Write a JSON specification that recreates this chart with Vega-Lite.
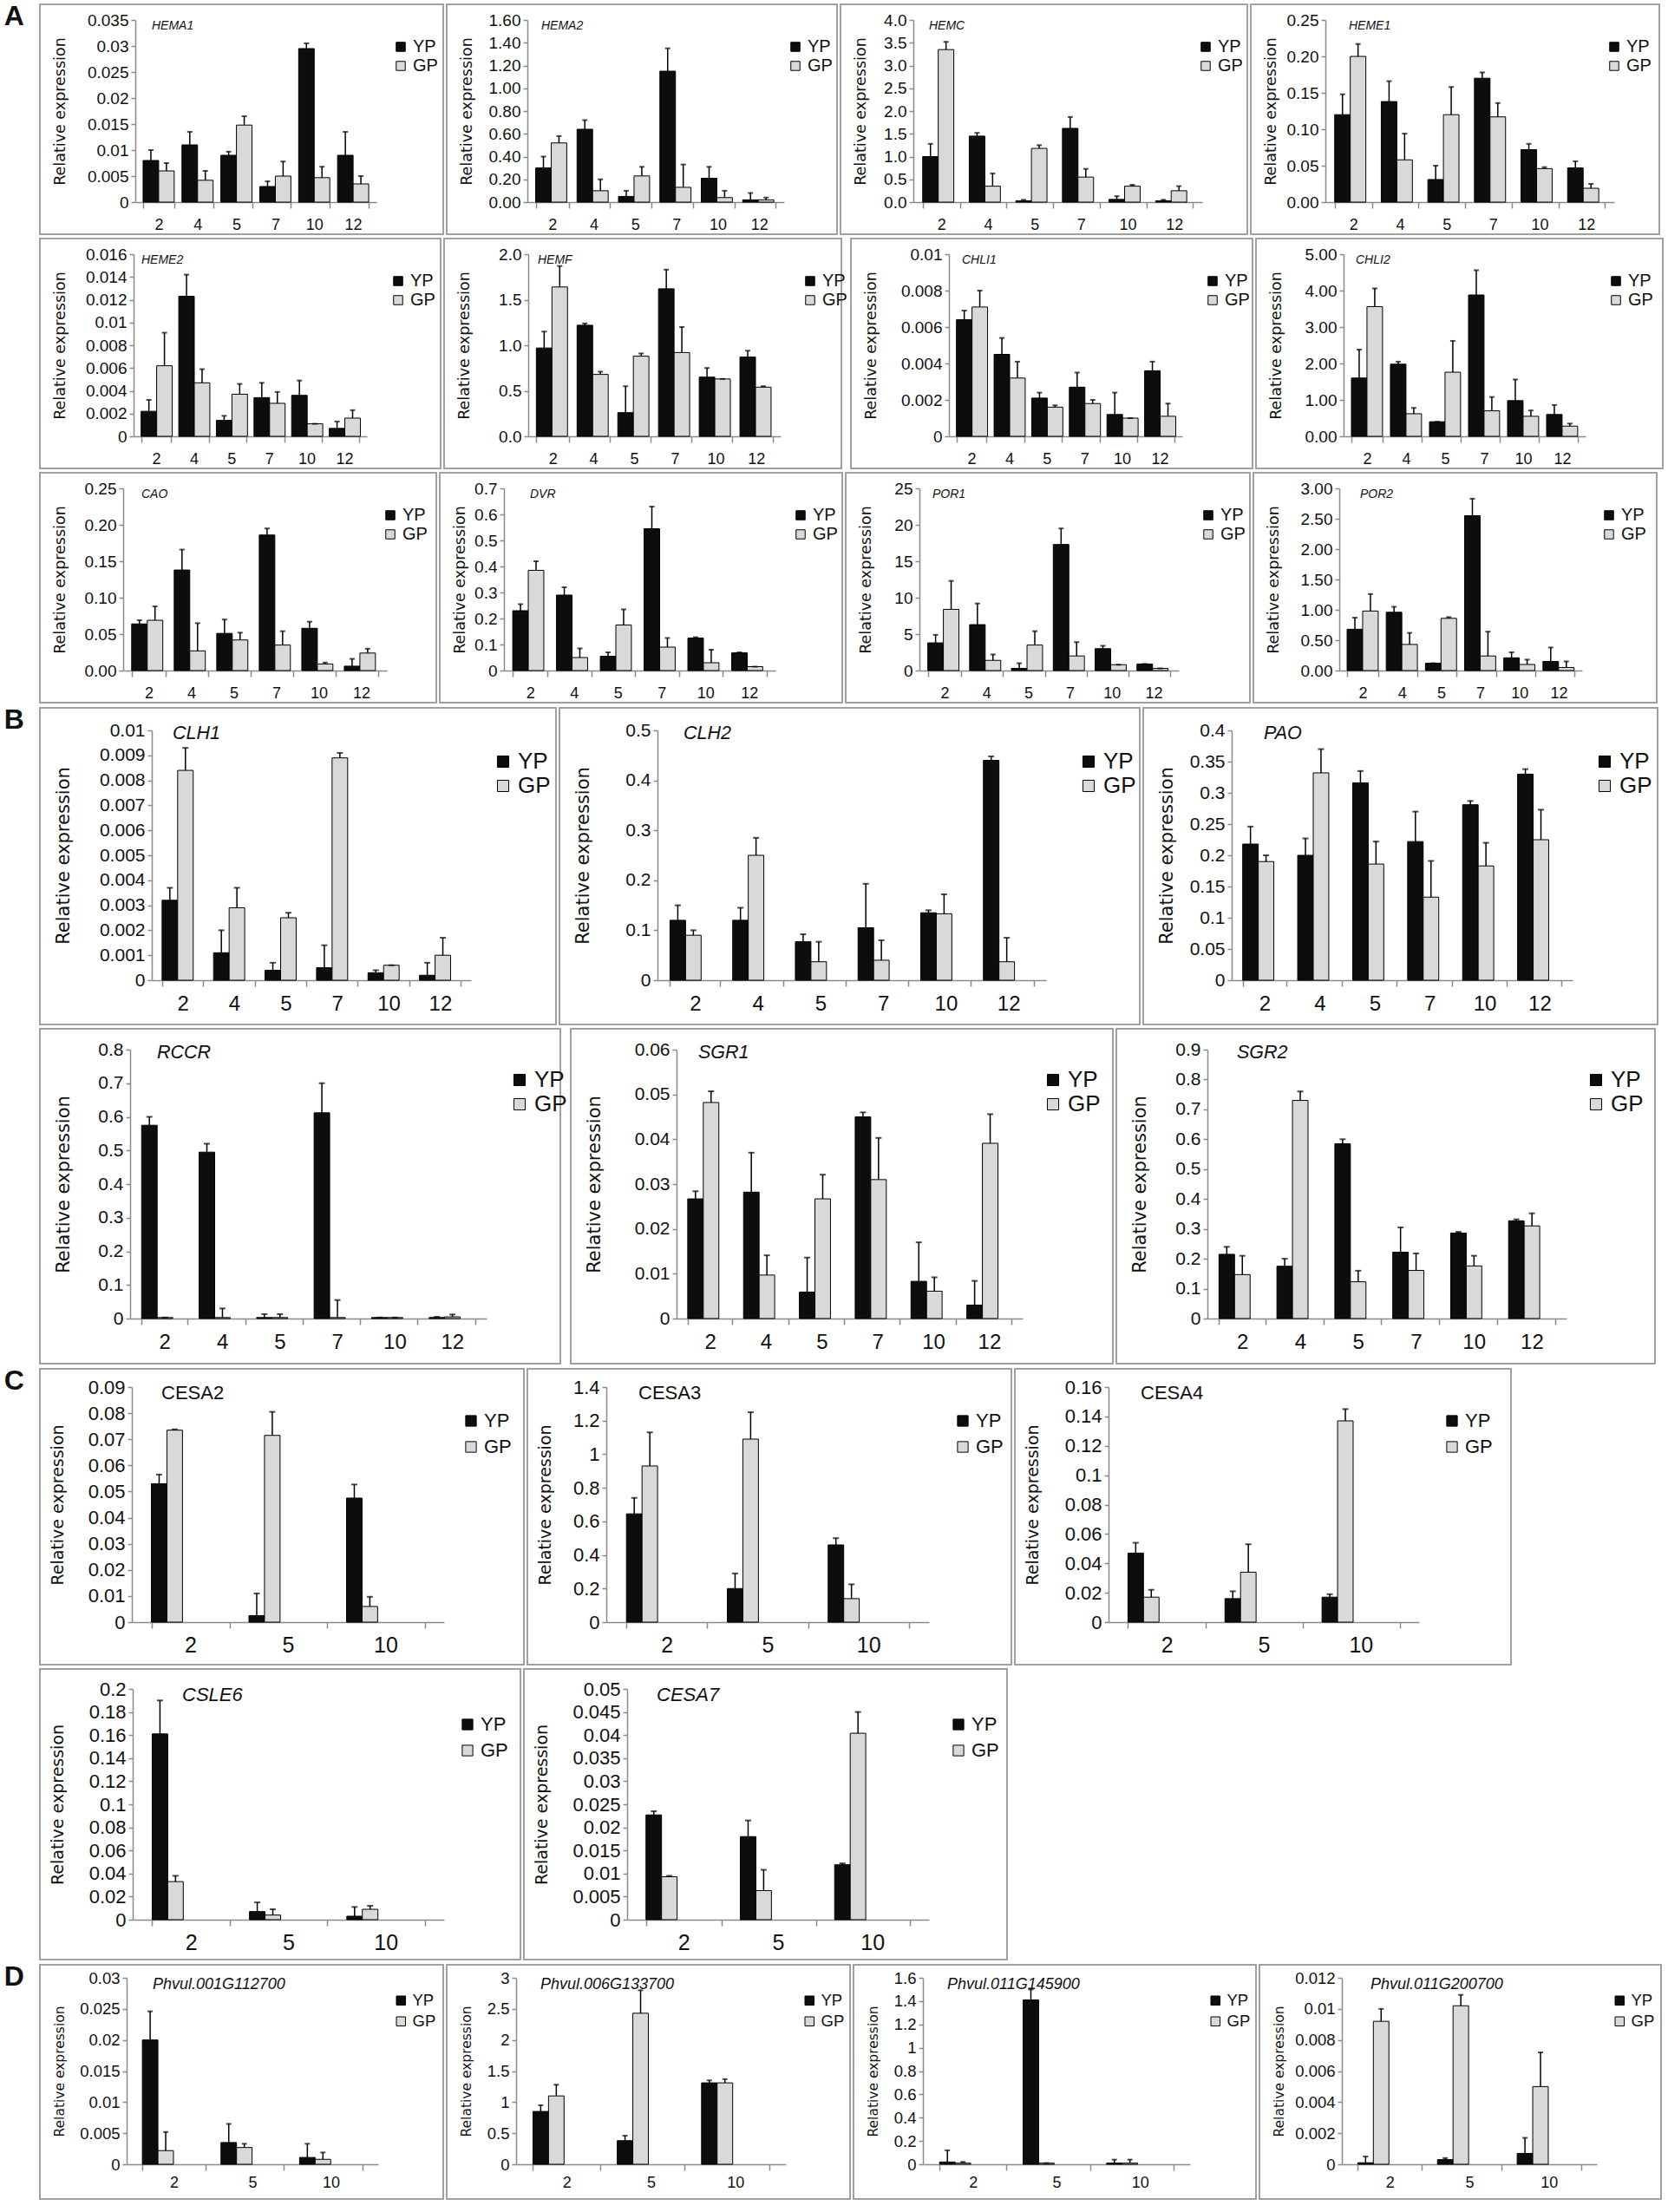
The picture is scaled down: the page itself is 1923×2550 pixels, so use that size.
{
"$schema":"https://vega.github.io/schema/vega-lite/v6.json",
"padding":{"left":4,"top":3,"right":0,"bottom":0},
"background":"white",
"spacing":3,
"resolve":{"scale":{"color":"independent"},"legend":{"color":"independent"}},
"config":{
"font":"Liberation Sans",
"view":{"stroke":"#a0a0a0","strokeWidth":2},
"axis":{"grid":false,"domainColor":"#8a8a8a","domainWidth":1.5,"tickColor":"#8a8a8a","tickWidth":1.5,"labelColor":"#111","titleColor":"#111","titleFontWeight":"normal","labelFont":"Liberation Sans","titleFont":"DejaVu Sans"},
"axisX":{"labelAngle":0,"tickBand":"extent","tickSize":7,"labelPadding":3},
"axisY":{"tickSize":5,"labelPadding":3},
"legend":{"orient":"none","symbolType":"square","symbolStrokeColor":"#000","symbolStrokeWidth":1,"labelFont":"Liberation Sans","labelColor":"#111"},
"scale":{"bandPaddingInner":0.4,"bandPaddingOuter":0.25,"offsetBandPaddingInner":0,"offsetBandPaddingOuter":0},
"bar":{"stroke":"#000","strokeWidth":1},
"rule":{"color":"#000","strokeWidth":1.5},
"tick":{"color":"#000","thickness":2},
"title":{"color":"#111"}
},
"datasets":{"t":[
{"g":"HEMA1","s":"YP","d":2,"v":0.008,"e":0.01},{"g":"HEMA1","s":"YP","d":4,"v":0.011,"e":0.0135},{"g":"HEMA1","s":"YP","d":5,"v":0.009,"e":0.0097},{"g":"HEMA1","s":"YP","d":7,"v":0.003,"e":0.004},{"g":"HEMA1","s":"YP","d":10,"v":0.0295,"e":0.0305},{"g":"HEMA1","s":"YP","d":12,"v":0.009,"e":0.0135},
{"g":"HEMA1","s":"GP","d":2,"v":0.006,"e":0.0075},{"g":"HEMA1","s":"GP","d":4,"v":0.0042,"e":0.006},{"g":"HEMA1","s":"GP","d":5,"v":0.0148,"e":0.0165},{"g":"HEMA1","s":"GP","d":7,"v":0.005,"e":0.0078},{"g":"HEMA1","s":"GP","d":10,"v":0.0047,"e":0.0068},{"g":"HEMA1","s":"GP","d":12,"v":0.0035,"e":0.005},
{"g":"HEMA2","s":"YP","d":2,"v":0.30,"e":0.40},{"g":"HEMA2","s":"YP","d":4,"v":0.64,"e":0.72},{"g":"HEMA2","s":"YP","d":5,"v":0.05,"e":0.10},{"g":"HEMA2","s":"YP","d":7,"v":1.15,"e":1.35},{"g":"HEMA2","s":"YP","d":10,"v":0.21,"e":0.31},{"g":"HEMA2","s":"YP","d":12,"v":0.02,"e":0.08},
{"g":"HEMA2","s":"GP","d":2,"v":0.52,"e":0.58},{"g":"HEMA2","s":"GP","d":4,"v":0.10,"e":0.20},{"g":"HEMA2","s":"GP","d":5,"v":0.23,"e":0.31},{"g":"HEMA2","s":"GP","d":7,"v":0.13,"e":0.33},{"g":"HEMA2","s":"GP","d":10,"v":0.04,"e":0.10},{"g":"HEMA2","s":"GP","d":12,"v":0.02,"e":0.04},
{"g":"HEMC","s":"YP","d":2,"v":1.0,"e":1.28},{"g":"HEMC","s":"YP","d":4,"v":1.45,"e":1.52},{"g":"HEMC","s":"YP","d":5,"v":0.03,"e":0.05},{"g":"HEMC","s":"YP","d":7,"v":1.62,"e":1.87},{"g":"HEMC","s":"YP","d":10,"v":0.06,"e":0.13},{"g":"HEMC","s":"YP","d":12,"v":0.03,"e":0.05},
{"g":"HEMC","s":"GP","d":2,"v":3.35,"e":3.52},{"g":"HEMC","s":"GP","d":4,"v":0.35,"e":0.63},{"g":"HEMC","s":"GP","d":5,"v":1.18,"e":1.25},{"g":"HEMC","s":"GP","d":7,"v":0.55,"e":0.73},{"g":"HEMC","s":"GP","d":10,"v":0.35,"e":0.38},{"g":"HEMC","s":"GP","d":12,"v":0.25,"e":0.35},
{"g":"HEME1","s":"YP","d":2,"v":0.12,"e":0.148},{"g":"HEME1","s":"YP","d":4,"v":0.138,"e":0.166},{"g":"HEME1","s":"YP","d":5,"v":0.031,"e":0.05},{"g":"HEME1","s":"YP","d":7,"v":0.17,"e":0.178},{"g":"HEME1","s":"YP","d":10,"v":0.072,"e":0.08},{"g":"HEME1","s":"YP","d":12,"v":0.047,"e":0.056},
{"g":"HEME1","s":"GP","d":2,"v":0.20,"e":0.217},{"g":"HEME1","s":"GP","d":4,"v":0.058,"e":0.094},{"g":"HEME1","s":"GP","d":5,"v":0.12,"e":0.158},{"g":"HEME1","s":"GP","d":7,"v":0.117,"e":0.136},{"g":"HEME1","s":"GP","d":10,"v":0.046,"e":0.048},{"g":"HEME1","s":"GP","d":12,"v":0.019,"e":0.025},
{"g":"HEME2","s":"YP","d":2,"v":0.0022,"e":0.0032},{"g":"HEME2","s":"YP","d":4,"v":0.0123,"e":0.0142},{"g":"HEME2","s":"YP","d":5,"v":0.0014,"e":0.0018},{"g":"HEME2","s":"YP","d":7,"v":0.0034,"e":0.0047},{"g":"HEME2","s":"YP","d":10,"v":0.0036,"e":0.0049},{"g":"HEME2","s":"YP","d":12,"v":0.0007,"e":0.0013},
{"g":"HEME2","s":"GP","d":2,"v":0.0062,"e":0.0091},{"g":"HEME2","s":"GP","d":4,"v":0.0047,"e":0.0059},{"g":"HEME2","s":"GP","d":5,"v":0.0037,"e":0.0046},{"g":"HEME2","s":"GP","d":7,"v":0.0029,"e":0.0039},{"g":"HEME2","s":"GP","d":10,"v":0.0011,"e":0.0011},{"g":"HEME2","s":"GP","d":12,"v":0.0016,"e":0.0023},
{"g":"HEMF","s":"YP","d":2,"v":0.97,"e":1.15},{"g":"HEMF","s":"YP","d":4,"v":1.22,"e":1.24},{"g":"HEMF","s":"YP","d":5,"v":0.26,"e":0.55},{"g":"HEMF","s":"YP","d":7,"v":1.62,"e":1.83},{"g":"HEMF","s":"YP","d":10,"v":0.65,"e":0.75},{"g":"HEMF","s":"YP","d":12,"v":0.87,"e":0.94},
{"g":"HEMF","s":"GP","d":2,"v":1.64,"e":1.87},{"g":"HEMF","s":"GP","d":4,"v":0.68,"e":0.71},{"g":"HEMF","s":"GP","d":5,"v":0.88,"e":0.91},{"g":"HEMF","s":"GP","d":7,"v":0.92,"e":1.2},{"g":"HEMF","s":"GP","d":10,"v":0.63,"e":0.63},{"g":"HEMF","s":"GP","d":12,"v":0.54,"e":0.55},
{"g":"CHLI1","s":"YP","d":2,"v":0.0064,"e":0.0069},{"g":"CHLI1","s":"YP","d":4,"v":0.0045,"e":0.0054},{"g":"CHLI1","s":"YP","d":5,"v":0.0021,"e":0.0024},{"g":"CHLI1","s":"YP","d":7,"v":0.0027,"e":0.0035},{"g":"CHLI1","s":"YP","d":10,"v":0.0012,"e":0.0024},{"g":"CHLI1","s":"YP","d":12,"v":0.0036,"e":0.0041},
{"g":"CHLI1","s":"GP","d":2,"v":0.0071,"e":0.008},{"g":"CHLI1","s":"GP","d":4,"v":0.0032,"e":0.0041},{"g":"CHLI1","s":"GP","d":5,"v":0.0016,"e":0.0017},{"g":"CHLI1","s":"GP","d":7,"v":0.0018,"e":0.002},{"g":"CHLI1","s":"GP","d":10,"v":0.001,"e":0.001},{"g":"CHLI1","s":"GP","d":12,"v":0.0011,"e":0.0018},
{"g":"CHLI2","s":"YP","d":2,"v":1.6,"e":2.38},{"g":"CHLI2","s":"YP","d":4,"v":1.98,"e":2.05},{"g":"CHLI2","s":"YP","d":5,"v":0.4,"e":0.4},{"g":"CHLI2","s":"YP","d":7,"v":3.88,"e":4.56},{"g":"CHLI2","s":"YP","d":10,"v":0.98,"e":1.56},{"g":"CHLI2","s":"YP","d":12,"v":0.6,"e":0.86},
{"g":"CHLI2","s":"GP","d":2,"v":3.56,"e":4.06},{"g":"CHLI2","s":"GP","d":4,"v":0.62,"e":0.78},{"g":"CHLI2","s":"GP","d":5,"v":1.76,"e":2.62},{"g":"CHLI2","s":"GP","d":7,"v":0.7,"e":1.08},{"g":"CHLI2","s":"GP","d":10,"v":0.55,"e":0.71},{"g":"CHLI2","s":"GP","d":12,"v":0.28,"e":0.35},
{"g":"CAO","s":"YP","d":2,"v":0.064,"e":0.069},{"g":"CAO","s":"YP","d":4,"v":0.138,"e":0.166},{"g":"CAO","s":"YP","d":5,"v":0.051,"e":0.07},{"g":"CAO","s":"YP","d":7,"v":0.186,"e":0.195},{"g":"CAO","s":"YP","d":10,"v":0.058,"e":0.067},{"g":"CAO","s":"YP","d":12,"v":0.006,"e":0.016},
{"g":"CAO","s":"GP","d":2,"v":0.069,"e":0.088},{"g":"CAO","s":"GP","d":4,"v":0.027,"e":0.065},{"g":"CAO","s":"GP","d":5,"v":0.042,"e":0.052},{"g":"CAO","s":"GP","d":7,"v":0.035,"e":0.054},{"g":"CAO","s":"GP","d":10,"v":0.009,"e":0.011},{"g":"CAO","s":"GP","d":12,"v":0.024,"e":0.03},
{"g":"DVR","s":"YP","d":2,"v":0.23,"e":0.255},{"g":"DVR","s":"YP","d":4,"v":0.29,"e":0.32},{"g":"DVR","s":"YP","d":5,"v":0.055,"e":0.07},{"g":"DVR","s":"YP","d":7,"v":0.545,"e":0.63},{"g":"DVR","s":"YP","d":10,"v":0.125,"e":0.128},{"g":"DVR","s":"YP","d":12,"v":0.068,"e":0.07},
{"g":"DVR","s":"GP","d":2,"v":0.385,"e":0.42},{"g":"DVR","s":"GP","d":4,"v":0.05,"e":0.085},{"g":"DVR","s":"GP","d":5,"v":0.175,"e":0.235},{"g":"DVR","s":"GP","d":7,"v":0.09,"e":0.125},{"g":"DVR","s":"GP","d":10,"v":0.03,"e":0.08},{"g":"DVR","s":"GP","d":12,"v":0.015,"e":0.015},
{"g":"POR1","s":"YP","d":2,"v":3.8,"e":4.9},{"g":"POR1","s":"YP","d":4,"v":6.3,"e":9.2},{"g":"POR1","s":"YP","d":5,"v":0.3,"e":1.0},{"g":"POR1","s":"YP","d":7,"v":17.3,"e":19.5},{"g":"POR1","s":"YP","d":10,"v":3.0,"e":3.4},{"g":"POR1","s":"YP","d":12,"v":0.9,"e":0.9},
{"g":"POR1","s":"GP","d":2,"v":8.4,"e":12.3},{"g":"POR1","s":"GP","d":4,"v":1.4,"e":2.2},{"g":"POR1","s":"GP","d":5,"v":3.5,"e":5.4},{"g":"POR1","s":"GP","d":7,"v":2.0,"e":3.9},{"g":"POR1","s":"GP","d":10,"v":0.8,"e":0.8},{"g":"POR1","s":"GP","d":12,"v":0.3,"e":0.3},
{"g":"POR2","s":"YP","d":2,"v":0.68,"e":0.87},{"g":"POR2","s":"YP","d":4,"v":0.96,"e":1.05},{"g":"POR2","s":"YP","d":5,"v":0.12,"e":0.12},{"g":"POR2","s":"YP","d":7,"v":2.55,"e":2.83},{"g":"POR2","s":"YP","d":10,"v":0.21,"e":0.3},{"g":"POR2","s":"YP","d":12,"v":0.15,"e":0.38},
{"g":"POR2","s":"GP","d":2,"v":0.98,"e":1.26},{"g":"POR2","s":"GP","d":4,"v":0.43,"e":0.62},{"g":"POR2","s":"GP","d":5,"v":0.86,"e":0.88},{"g":"POR2","s":"GP","d":7,"v":0.24,"e":0.64},{"g":"POR2","s":"GP","d":10,"v":0.1,"e":0.18},{"g":"POR2","s":"GP","d":12,"v":0.05,"e":0.15},
{"g":"CLH1","s":"YP","d":2,"v":0.0032,"e":0.0037},{"g":"CLH1","s":"YP","d":4,"v":0.0011,"e":0.002},{"g":"CLH1","s":"YP","d":5,"v":0.0004,"e":0.0007},{"g":"CLH1","s":"YP","d":7,"v":0.0005,"e":0.0014},{"g":"CLH1","s":"YP","d":10,"v":0.0003,"e":0.0004},{"g":"CLH1","s":"YP","d":12,"v":0.0002,"e":0.0007},
{"g":"CLH1","s":"GP","d":2,"v":0.0084,"e":0.0093},{"g":"CLH1","s":"GP","d":4,"v":0.0029,"e":0.0037},{"g":"CLH1","s":"GP","d":5,"v":0.0025,"e":0.0027},{"g":"CLH1","s":"GP","d":7,"v":0.0089,"e":0.0091},{"g":"CLH1","s":"GP","d":10,"v":0.0006,"e":0.0006},{"g":"CLH1","s":"GP","d":12,"v":0.001,"e":0.0017},
{"g":"CLH2","s":"YP","d":2,"v":0.12,"e":0.15},{"g":"CLH2","s":"YP","d":4,"v":0.12,"e":0.145},{"g":"CLH2","s":"YP","d":5,"v":0.077,"e":0.092},{"g":"CLH2","s":"YP","d":7,"v":0.105,"e":0.193},{"g":"CLH2","s":"YP","d":10,"v":0.135,"e":0.14},{"g":"CLH2","s":"YP","d":12,"v":0.44,"e":0.448},
{"g":"CLH2","s":"GP","d":2,"v":0.09,"e":0.10},{"g":"CLH2","s":"GP","d":4,"v":0.25,"e":0.285},{"g":"CLH2","s":"GP","d":5,"v":0.037,"e":0.077},{"g":"CLH2","s":"GP","d":7,"v":0.04,"e":0.08},{"g":"CLH2","s":"GP","d":10,"v":0.133,"e":0.172},{"g":"CLH2","s":"GP","d":12,"v":0.037,"e":0.085},
{"g":"PAO","s":"YP","d":2,"v":0.218,"e":0.246},{"g":"PAO","s":"YP","d":4,"v":0.2,"e":0.227},{"g":"PAO","s":"YP","d":5,"v":0.316,"e":0.335},{"g":"PAO","s":"YP","d":7,"v":0.222,"e":0.27},{"g":"PAO","s":"YP","d":10,"v":0.281,"e":0.287},{"g":"PAO","s":"YP","d":12,"v":0.33,"e":0.338},
{"g":"PAO","s":"GP","d":2,"v":0.19,"e":0.2},{"g":"PAO","s":"GP","d":4,"v":0.332,"e":0.37},{"g":"PAO","s":"GP","d":5,"v":0.186,"e":0.222},{"g":"PAO","s":"GP","d":7,"v":0.133,"e":0.191},{"g":"PAO","s":"GP","d":10,"v":0.183,"e":0.22},{"g":"PAO","s":"GP","d":12,"v":0.225,"e":0.273},
{"g":"RCCR","s":"YP","d":2,"v":0.575,"e":0.6},{"g":"RCCR","s":"YP","d":4,"v":0.495,"e":0.52},{"g":"RCCR","s":"YP","d":5,"v":0.003,"e":0.013},{"g":"RCCR","s":"YP","d":7,"v":0.612,"e":0.7},{"g":"RCCR","s":"YP","d":10,"v":0.003,"e":0.003},{"g":"RCCR","s":"YP","d":12,"v":0.003,"e":0.005},
{"g":"RCCR","s":"GP","d":2,"v":0.003,"e":0.003},{"g":"RCCR","s":"GP","d":4,"v":0.003,"e":0.03},{"g":"RCCR","s":"GP","d":5,"v":0.003,"e":0.013},{"g":"RCCR","s":"GP","d":7,"v":0.003,"e":0.055},{"g":"RCCR","s":"GP","d":10,"v":0.003,"e":0.003},{"g":"RCCR","s":"GP","d":12,"v":0.005,"e":0.012},
{"g":"SGR1","s":"YP","d":2,"v":0.0267,"e":0.0284},{"g":"SGR1","s":"YP","d":4,"v":0.0282,"e":0.037},{"g":"SGR1","s":"YP","d":5,"v":0.0059,"e":0.0136},{"g":"SGR1","s":"YP","d":7,"v":0.045,"e":0.046},{"g":"SGR1","s":"YP","d":10,"v":0.0083,"e":0.017},{"g":"SGR1","s":"YP","d":12,"v":0.003,"e":0.0084},
{"g":"SGR1","s":"GP","d":2,"v":0.0482,"e":0.0507},{"g":"SGR1","s":"GP","d":4,"v":0.0097,"e":0.0141},{"g":"SGR1","s":"GP","d":5,"v":0.0267,"e":0.0321},{"g":"SGR1","s":"GP","d":7,"v":0.031,"e":0.0403},{"g":"SGR1","s":"GP","d":10,"v":0.0061,"e":0.0092},{"g":"SGR1","s":"GP","d":12,"v":0.0391,"e":0.0456},
{"g":"SGR2","s":"YP","d":2,"v":0.215,"e":0.24},{"g":"SGR2","s":"YP","d":4,"v":0.175,"e":0.2},{"g":"SGR2","s":"YP","d":5,"v":0.585,"e":0.6},{"g":"SGR2","s":"YP","d":7,"v":0.222,"e":0.305},{"g":"SGR2","s":"YP","d":10,"v":0.286,"e":0.29},{"g":"SGR2","s":"YP","d":12,"v":0.327,"e":0.332},
{"g":"SGR2","s":"GP","d":2,"v":0.147,"e":0.21},{"g":"SGR2","s":"GP","d":4,"v":0.73,"e":0.76},{"g":"SGR2","s":"GP","d":5,"v":0.123,"e":0.16},{"g":"SGR2","s":"GP","d":7,"v":0.161,"e":0.218},{"g":"SGR2","s":"GP","d":10,"v":0.176,"e":0.21},{"g":"SGR2","s":"GP","d":12,"v":0.31,"e":0.352},
{"g":"CESA2","s":"YP","d":2,"v":0.053,"e":0.0565},{"g":"CESA2","s":"YP","d":5,"v":0.0025,"e":0.011},{"g":"CESA2","s":"YP","d":10,"v":0.0475,"e":0.0527},
{"g":"CESA2","s":"GP","d":2,"v":0.0735,"e":0.0738},{"g":"CESA2","s":"GP","d":5,"v":0.0715,"e":0.0805},{"g":"CESA2","s":"GP","d":10,"v":0.006,"e":0.0097},
{"g":"CESA3","s":"YP","d":2,"v":0.645,"e":0.74},{"g":"CESA3","s":"YP","d":5,"v":0.2,"e":0.29},{"g":"CESA3","s":"YP","d":10,"v":0.46,"e":0.5},
{"g":"CESA3","s":"GP","d":2,"v":0.93,"e":1.13},{"g":"CESA3","s":"GP","d":5,"v":1.09,"e":1.25},{"g":"CESA3","s":"GP","d":10,"v":0.14,"e":0.225},
{"g":"CESA4","s":"YP","d":2,"v":0.047,"e":0.054},{"g":"CESA4","s":"YP","d":5,"v":0.016,"e":0.021},{"g":"CESA4","s":"YP","d":10,"v":0.017,"e":0.019},
{"g":"CESA4","s":"GP","d":2,"v":0.017,"e":0.022},{"g":"CESA4","s":"GP","d":5,"v":0.034,"e":0.053},{"g":"CESA4","s":"GP","d":10,"v":0.137,"e":0.145},
{"g":"CSLE6","s":"YP","d":2,"v":0.161,"e":0.19},{"g":"CSLE6","s":"YP","d":5,"v":0.007,"e":0.015},{"g":"CSLE6","s":"YP","d":10,"v":0.003,"e":0.011},
{"g":"CSLE6","s":"GP","d":2,"v":0.033,"e":0.038},{"g":"CSLE6","s":"GP","d":5,"v":0.004,"e":0.009},{"g":"CSLE6","s":"GP","d":10,"v":0.009,"e":0.012},
{"g":"CESA7","s":"YP","d":2,"v":0.0227,"e":0.0235},{"g":"CESA7","s":"YP","d":5,"v":0.018,"e":0.0215},{"g":"CESA7","s":"YP","d":10,"v":0.0119,"e":0.0122},
{"g":"CESA7","s":"GP","d":2,"v":0.0093,"e":0.0095},{"g":"CESA7","s":"GP","d":5,"v":0.0063,"e":0.0108},{"g":"CESA7","s":"GP","d":10,"v":0.0404,"e":0.045},
{"g":"Phvul.001G112700","s":"YP","d":2,"v":0.02,"e":0.0246},{"g":"Phvul.001G112700","s":"YP","d":5,"v":0.0035,"e":0.0065},{"g":"Phvul.001G112700","s":"YP","d":10,"v":0.0011,"e":0.0033},
{"g":"Phvul.001G112700","s":"GP","d":2,"v":0.0022,"e":0.0052},{"g":"Phvul.001G112700","s":"GP","d":5,"v":0.0027,"e":0.0033},{"g":"Phvul.001G112700","s":"GP","d":10,"v":0.0008,"e":0.0019},
{"g":"Phvul.006G133700","s":"YP","d":2,"v":0.85,"e":0.95},{"g":"Phvul.006G133700","s":"YP","d":5,"v":0.38,"e":0.46},{"g":"Phvul.006G133700","s":"YP","d":10,"v":1.31,"e":1.35},
{"g":"Phvul.006G133700","s":"GP","d":2,"v":1.1,"e":1.28},{"g":"Phvul.006G133700","s":"GP","d":5,"v":2.43,"e":2.8},{"g":"Phvul.006G133700","s":"GP","d":10,"v":1.31,"e":1.37},
{"g":"Phvul.011G145900","s":"YP","d":2,"v":0.02,"e":0.12},{"g":"Phvul.011G145900","s":"YP","d":5,"v":1.41,"e":1.5},{"g":"Phvul.011G145900","s":"YP","d":10,"v":0.01,"e":0.04},
{"g":"Phvul.011G145900","s":"GP","d":2,"v":0.01,"e":0.02},{"g":"Phvul.011G145900","s":"GP","d":5,"v":0.01,"e":0.01},{"g":"Phvul.011G145900","s":"GP","d":10,"v":0.01,"e":0.04},
{"g":"Phvul.011G200700","s":"YP","d":2,"v":0.0001,"e":0.0005},{"g":"Phvul.011G200700","s":"YP","d":5,"v":0.0003,"e":0.0004},{"g":"Phvul.011G200700","s":"YP","d":10,"v":0.0007,"e":0.0017},
{"g":"Phvul.011G200700","s":"GP","d":2,"v":0.0092,"e":0.01},{"g":"Phvul.011G200700","s":"GP","d":5,"v":0.0102,"e":0.0109},{"g":"Phvul.011G200700","s":"GP","d":10,"v":0.005,"e":0.0072}
]},
"vconcat":[
{"title":{"text":"A","orient":"left","anchor":"end","angle":0,"align":"right","baseline":"top","fontSize":32,"fontWeight":"bold","font":"Liberation Sans","offset":-6},
"spacing":3,"resolve":{"scale":{"color":"independent"},"legend":{"color":"independent"}},
"vconcat":[
{"spacing":2,"resolve":{"scale":{"color":"independent"},"legend":{"color":"independent"}},"hconcat":[
{"width":465,"height":265,"title":{"text":"HEMA1","anchor":"start","frame":"group","dx":129,"offset":-32,"baseline":"top","fontSize":14,"fontStyle":"italic","fontWeight":"normal","font":"Liberation Sans"},
"data":{"name":"t"},"transform":[{"filter":"datum.g==='HEMA1'"}],
"encoding":{"x":{"field":"d","type":"ordinal","title":null,"scale":{"range":[110,388]},"axis":{"offset":-37,"labelFontSize":18,"labelPadding":10}},
"xOffset":{"field":"s","type":"nominal","sort":["YP","GP"]},
"y":{"field":"v","type":"quantitative","title":"Relative expression","scale":{"domain":[0,0.035],"range":[228,18]},"axis":{"offset":-110,"titleX":-78,"values":[0,0.005,0.01,0.015,0.02,0.025,0.03,0.035],"format":"~g","labelFontSize":19,"titleFontSize":17.5}}},
"layer":[{"mark":"bar","encoding":{"color":{"field":"s","type":"nominal","sort":["YP","GP"],"scale":{"domain":["YP","GP"],"range":["#0d0d0d","#d9d9d9"]},"legend":{"title":null,"legendX":406,"legendY":39,"labelFontSize":20,"symbolSize":110,"rowPadding":2}}}},
{"mark":"rule","encoding":{"y2":{"field":"e"}}},
{"mark":"tick","encoding":{"y":{"field":"e","type":"quantitative","title":"Relative expression"},"size":{"value":6}}}]},
{"width":450,"height":265,"title":{"text":"HEMA2","anchor":"start","frame":"group","dx":109,"offset":-32,"baseline":"top","fontSize":14,"fontStyle":"italic","fontWeight":"normal","font":"Liberation Sans"},
"data":{"name":"t"},"transform":[{"filter":"datum.g==='HEMA2'"}],
"encoding":{"x":{"field":"d","type":"ordinal","title":null,"scale":{"range":[93,389]},"axis":{"offset":-37,"labelFontSize":18,"labelPadding":10}},
"xOffset":{"field":"s","type":"nominal","sort":["YP","GP"]},
"y":{"field":"v","type":"quantitative","title":"Relative expression","scale":{"domain":[0,1.6],"range":[228,18]},"axis":{"offset":-93,"titleX":-61,"values":[0,0.2,0.4,0.6,0.8,1,1.2,1.4,1.6],"format":".2f","labelFontSize":19,"titleFontSize":17.5}}},
"layer":[{"mark":"bar","encoding":{"color":{"field":"s","type":"nominal","sort":["YP","GP"],"scale":{"domain":["YP","GP"],"range":["#0d0d0d","#d9d9d9"]},"legend":{"title":null,"legendX":392,"legendY":39,"labelFontSize":20,"symbolSize":110,"rowPadding":2}}}},
{"mark":"rule","encoding":{"y2":{"field":"e"}}},
{"mark":"tick","encoding":{"y":{"field":"e","type":"quantitative","title":"Relative expression"},"size":{"value":6}}}]},
{"width":469,"height":265,"title":{"text":"HEMC","anchor":"start","frame":"group","dx":102,"offset":-32,"baseline":"top","fontSize":14,"fontStyle":"italic","fontWeight":"normal","font":"Liberation Sans"},
"data":{"name":"t"},"transform":[{"filter":"datum.g==='HEMC'"}],
"encoding":{"x":{"field":"d","type":"ordinal","title":null,"scale":{"range":[84,417]},"axis":{"offset":-37,"labelFontSize":18,"labelPadding":10}},
"xOffset":{"field":"s","type":"nominal","sort":["YP","GP"]},
"y":{"field":"v","type":"quantitative","title":"Relative expression","scale":{"domain":[0,4],"range":[228,18]},"axis":{"offset":-84,"titleX":-52,"values":[0,0.5,1,1.5,2,2.5,3,3.5,4],"format":".1f","labelFontSize":19,"titleFontSize":17.5}}},
"layer":[{"mark":"bar","encoding":{"color":{"field":"s","type":"nominal","sort":["YP","GP"],"scale":{"domain":["YP","GP"],"range":["#0d0d0d","#d9d9d9"]},"legend":{"title":null,"legendX":411,"legendY":39,"labelFontSize":20,"symbolSize":110,"rowPadding":2}}}},
{"mark":"rule","encoding":{"y2":{"field":"e"}}},
{"mark":"tick","encoding":{"y":{"field":"e","type":"quantitative","title":"Relative expression"},"size":{"value":6}}}]},
{"width":471,"height":265,"title":{"text":"HEME1","anchor":"start","frame":"group","dx":113,"offset":-32,"baseline":"top","fontSize":14,"fontStyle":"italic","fontWeight":"normal","font":"Liberation Sans"},
"data":{"name":"t"},"transform":[{"filter":"datum.g==='HEME1'"}],
"encoding":{"x":{"field":"d","type":"ordinal","title":null,"scale":{"range":[86,419]},"axis":{"offset":-37,"labelFontSize":18,"labelPadding":10}},
"xOffset":{"field":"s","type":"nominal","sort":["YP","GP"]},
"y":{"field":"v","type":"quantitative","title":"Relative expression","scale":{"domain":[0,0.25],"range":[228,18]},"axis":{"offset":-86,"titleX":-54,"values":[0,0.05,0.1,0.15,0.2,0.25],"format":".2f","labelFontSize":19,"titleFontSize":17.5}}},
"layer":[{"mark":"bar","encoding":{"color":{"field":"s","type":"nominal","sort":["YP","GP"],"scale":{"domain":["YP","GP"],"range":["#0d0d0d","#d9d9d9"]},"legend":{"title":null,"legendX":409,"legendY":39,"labelFontSize":20,"symbolSize":110,"rowPadding":2}}}},
{"mark":"rule","encoding":{"y2":{"field":"e"}}},
{"mark":"tick","encoding":{"y":{"field":"e","type":"quantitative","title":"Relative expression"},"size":{"value":6}}}]}
]},
{"spacing":2,"resolve":{"scale":{"color":"independent"},"legend":{"color":"independent"}},"hconcat":[
{"width":462,"height":265,"title":{"text":"HEME2","anchor":"start","frame":"group","dx":117,"offset":-32,"baseline":"top","fontSize":14,"fontStyle":"italic","fontWeight":"normal","font":"Liberation Sans"},
"data":{"name":"t"},"transform":[{"filter":"datum.g==='HEME2'"}],
"encoding":{"x":{"field":"d","type":"ordinal","title":null,"scale":{"range":[108,377]},"axis":{"offset":-37,"labelFontSize":18,"labelPadding":10}},
"xOffset":{"field":"s","type":"nominal","sort":["YP","GP"]},
"y":{"field":"v","type":"quantitative","title":"Relative expression","scale":{"domain":[0,0.016],"range":[228,18]},"axis":{"offset":-108,"titleX":-76,"values":[0,0.002,0.004,0.006,0.008,0.01,0.012,0.014,0.016],"format":"~g","labelFontSize":19,"titleFontSize":17.5}}},
"layer":[{"mark":"bar","encoding":{"color":{"field":"s","type":"nominal","sort":["YP","GP"],"scale":{"domain":["YP","GP"],"range":["#0d0d0d","#d9d9d9"]},"legend":{"title":null,"legendX":403,"legendY":39,"labelFontSize":20,"symbolSize":110,"rowPadding":2}}}},
{"mark":"rule","encoding":{"y2":{"field":"e"}}},
{"mark":"tick","encoding":{"y":{"field":"e","type":"quantitative","title":"Relative expression"},"size":{"value":6}}}]},
{"width":458,"height":265,"title":{"text":"HEMF","anchor":"start","frame":"group","dx":108,"offset":-32,"baseline":"top","fontSize":14,"fontStyle":"italic","fontWeight":"normal","font":"Liberation Sans"},
"data":{"name":"t"},"transform":[{"filter":"datum.g==='HEMF'"}],
"encoding":{"x":{"field":"d","type":"ordinal","title":null,"scale":{"range":[97,388]},"axis":{"offset":-37,"labelFontSize":18,"labelPadding":10}},
"xOffset":{"field":"s","type":"nominal","sort":["YP","GP"]},
"y":{"field":"v","type":"quantitative","title":"Relative expression","scale":{"domain":[0,2],"range":[228,18]},"axis":{"offset":-97,"titleX":-65,"values":[0,0.5,1,1.5,2],"format":".1f","labelFontSize":19,"titleFontSize":17.5}}},
"layer":[{"mark":"bar","encoding":{"color":{"field":"s","type":"nominal","sort":["YP","GP"],"scale":{"domain":["YP","GP"],"range":["#0d0d0d","#d9d9d9"]},"legend":{"title":null,"legendX":412,"legendY":39,"labelFontSize":20,"symbolSize":110,"rowPadding":2}}}},
{"mark":"rule","encoding":{"y2":{"field":"e"}}},
{"mark":"tick","encoding":{"y":{"field":"e","type":"quantitative","title":"Relative expression"},"size":{"value":6}}}]},
{"width":463,"height":265,"title":{"text":"CHLI1","anchor":"start","frame":"group","dx":128,"offset":-32,"baseline":"top","fontSize":14,"fontStyle":"italic","fontWeight":"normal","font":"Liberation Sans"},
"data":{"name":"t"},"transform":[{"filter":"datum.g==='CHLI1'"}],
"encoding":{"x":{"field":"d","type":"ordinal","title":null,"scale":{"range":[113,382]},"axis":{"offset":-37,"labelFontSize":18,"labelPadding":10}},
"xOffset":{"field":"s","type":"nominal","sort":["YP","GP"]},
"y":{"field":"v","type":"quantitative","title":"Relative expression","scale":{"domain":[0,0.01],"range":[228,18]},"axis":{"offset":-113,"titleX":-81,"values":[0,0.002,0.004,0.006,0.008,0.01],"format":"~g","labelFontSize":19,"titleFontSize":17.5}}},
"layer":[{"mark":"bar","encoding":{"color":{"field":"s","type":"nominal","sort":["YP","GP"],"scale":{"domain":["YP","GP"],"range":["#0d0d0d","#d9d9d9"]},"legend":{"title":null,"legendX":407,"legendY":39,"labelFontSize":20,"symbolSize":110,"rowPadding":2}}}},
{"mark":"rule","encoding":{"y2":{"field":"e"}}},
{"mark":"tick","encoding":{"y":{"field":"e","type":"quantitative","title":"Relative expression"},"size":{"value":6}}}]},
{"width":469,"height":265,"title":{"text":"CHLI2","anchor":"start","frame":"group","dx":115,"offset":-32,"baseline":"top","fontSize":14,"fontStyle":"italic","fontWeight":"normal","font":"Liberation Sans"},
"data":{"name":"t"},"transform":[{"filter":"datum.g==='CHLI2'"}],
"encoding":{"x":{"field":"d","type":"ordinal","title":null,"scale":{"range":[101,380]},"axis":{"offset":-37,"labelFontSize":18,"labelPadding":10}},
"xOffset":{"field":"s","type":"nominal","sort":["YP","GP"]},
"y":{"field":"v","type":"quantitative","title":"Relative expression","scale":{"domain":[0,5],"range":[228,18]},"axis":{"offset":-101,"titleX":-69,"values":[0,1,2,3,4,5],"format":".2f","labelFontSize":19,"titleFontSize":17.5}}},
"layer":[{"mark":"bar","encoding":{"color":{"field":"s","type":"nominal","sort":["YP","GP"],"scale":{"domain":["YP","GP"],"range":["#0d0d0d","#d9d9d9"]},"legend":{"title":null,"legendX":405,"legendY":39,"labelFontSize":20,"symbolSize":110,"rowPadding":2}}}},
{"mark":"rule","encoding":{"y2":{"field":"e"}}},
{"mark":"tick","encoding":{"y":{"field":"e","type":"quantitative","title":"Relative expression"},"size":{"value":6}}}]}
]},
{"spacing":2,"resolve":{"scale":{"color":"independent"},"legend":{"color":"independent"}},"hconcat":[
{"width":457,"height":265,"title":{"text":"CAO","anchor":"start","frame":"group","dx":117,"offset":-32,"baseline":"top","fontSize":14,"fontStyle":"italic","fontWeight":"normal","font":"Liberation Sans"},
"data":{"name":"t"},"transform":[{"filter":"datum.g==='CAO'"}],
"encoding":{"x":{"field":"d","type":"ordinal","title":null,"scale":{"range":[96,400]},"axis":{"offset":-37,"labelFontSize":18,"labelPadding":10}},
"xOffset":{"field":"s","type":"nominal","sort":["YP","GP"]},
"y":{"field":"v","type":"quantitative","title":"Relative expression","scale":{"domain":[0,0.25],"range":[228,18]},"axis":{"offset":-96,"titleX":-64,"values":[0,0.05,0.1,0.15,0.2,0.25],"format":".2f","labelFontSize":19,"titleFontSize":17.5}}},
"layer":[{"mark":"bar","encoding":{"color":{"field":"s","type":"nominal","sort":["YP","GP"],"scale":{"domain":["YP","GP"],"range":["#0d0d0d","#d9d9d9"]},"legend":{"title":null,"legendX":394,"legendY":39,"labelFontSize":20,"symbolSize":110,"rowPadding":2}}}},
{"mark":"rule","encoding":{"y2":{"field":"e"}}},
{"mark":"tick","encoding":{"y":{"field":"e","type":"quantitative","title":"Relative expression"},"size":{"value":6}}}]},
{"width":464,"height":265,"title":{"text":"DVR","anchor":"start","frame":"group","dx":104,"offset":-32,"baseline":"top","fontSize":14,"fontStyle":"italic","fontWeight":"normal","font":"Liberation Sans"},
"data":{"name":"t"},"transform":[{"filter":"datum.g==='DVR'"}],
"encoding":{"x":{"field":"d","type":"ordinal","title":null,"scale":{"range":[74,387]},"axis":{"offset":-37,"labelFontSize":18,"labelPadding":10}},
"xOffset":{"field":"s","type":"nominal","sort":["YP","GP"]},
"y":{"field":"v","type":"quantitative","title":"Relative expression","scale":{"domain":[0,0.7],"range":[228,18]},"axis":{"offset":-74,"titleX":-42,"values":[0,0.1,0.2,0.3,0.4,0.5,0.6,0.7],"format":"~g","labelFontSize":19,"titleFontSize":17.5}}},
"layer":[{"mark":"bar","encoding":{"color":{"field":"s","type":"nominal","sort":["YP","GP"],"scale":{"domain":["YP","GP"],"range":["#0d0d0d","#d9d9d9"]},"legend":{"title":null,"legendX":406,"legendY":39,"labelFontSize":20,"symbolSize":110,"rowPadding":2}}}},
{"mark":"rule","encoding":{"y2":{"field":"e"}}},
{"mark":"tick","encoding":{"y":{"field":"e","type":"quantitative","title":"Relative expression"},"size":{"value":6}}}]},
{"width":466,"height":265,"title":{"text":"POR1","anchor":"start","frame":"group","dx":100,"offset":-32,"baseline":"top","fontSize":14,"fontStyle":"italic","fontWeight":"normal","font":"Liberation Sans"},
"data":{"name":"t"},"transform":[{"filter":"datum.g==='POR1'"}],
"encoding":{"x":{"field":"d","type":"ordinal","title":null,"scale":{"range":[85,384]},"axis":{"offset":-37,"labelFontSize":18,"labelPadding":10}},
"xOffset":{"field":"s","type":"nominal","sort":["YP","GP"]},
"y":{"field":"v","type":"quantitative","title":"Relative expression","scale":{"domain":[0,25],"range":[228,18]},"axis":{"offset":-85,"titleX":-53,"values":[0,5,10,15,20,25],"format":"~g","labelFontSize":19,"titleFontSize":17.5}}},
"layer":[{"mark":"bar","encoding":{"color":{"field":"s","type":"nominal","sort":["YP","GP"],"scale":{"domain":["YP","GP"],"range":["#0d0d0d","#d9d9d9"]},"legend":{"title":null,"legendX":408,"legendY":39,"labelFontSize":20,"symbolSize":110,"rowPadding":2}}}},
{"mark":"rule","encoding":{"y2":{"field":"e"}}},
{"mark":"tick","encoding":{"y":{"field":"e","type":"quantitative","title":"Relative expression"},"size":{"value":6}}}]},
{"width":465,"height":265,"title":{"text":"POR2","anchor":"start","frame":"group","dx":123,"offset":-32,"baseline":"top","fontSize":14,"fontStyle":"italic","fontWeight":"normal","font":"Liberation Sans"},
"data":{"name":"t"},"transform":[{"filter":"datum.g==='POR2'"}],
"encoding":{"x":{"field":"d","type":"ordinal","title":null,"scale":{"range":[99,379]},"axis":{"offset":-37,"labelFontSize":18,"labelPadding":10}},
"xOffset":{"field":"s","type":"nominal","sort":["YP","GP"]},
"y":{"field":"v","type":"quantitative","title":"Relative expression","scale":{"domain":[0,3],"range":[228,18]},"axis":{"offset":-99,"titleX":-67,"values":[0,0.5,1,1.5,2,2.5,3],"format":".2f","labelFontSize":19,"titleFontSize":17.5}}},
"layer":[{"mark":"bar","encoding":{"color":{"field":"s","type":"nominal","sort":["YP","GP"],"scale":{"domain":["YP","GP"],"range":["#0d0d0d","#d9d9d9"]},"legend":{"title":null,"legendX":400,"legendY":39,"labelFontSize":20,"symbolSize":110,"rowPadding":2}}}},
{"mark":"rule","encoding":{"y2":{"field":"e"}}},
{"mark":"tick","encoding":{"y":{"field":"e","type":"quantitative","title":"Relative expression"},"size":{"value":6}}}]}
]}
]},
{"title":{"text":"B","orient":"left","anchor":"end","angle":0,"align":"right","baseline":"top","fontSize":32,"fontWeight":"bold","font":"Liberation Sans","offset":-6},
"spacing":3,"resolve":{"scale":{"color":"independent"},"legend":{"color":"independent"}},
"vconcat":[
{"spacing":2,"resolve":{"scale":{"color":"independent"},"legend":{"color":"independent"}},"hconcat":[
{"width":595,"height":365,"title":{"text":"CLH1","anchor":"start","frame":"group","dx":153,"offset":-40,"baseline":"top","fontSize":21.5,"fontStyle":"italic","fontWeight":"normal","font":"Liberation Sans"},
"data":{"name":"t"},"transform":[{"filter":"datum.g==='CLH1'"}],
"encoding":{"x":{"field":"d","type":"ordinal","title":null,"scale":{"range":[129,497]},"axis":{"offset":-51,"labelFontSize":24,"labelPadding":8}},
"xOffset":{"field":"s","type":"nominal","sort":["YP","GP"]},
"y":{"field":"v","type":"quantitative","title":"Relative expression","scale":{"domain":[0,0.01],"range":[314,26]},"axis":{"offset":-129,"titleX":-92,"values":[0,0.001,0.002,0.003,0.004,0.005,0.006,0.007,0.008,0.009,0.01],"format":"~g","labelFontSize":21,"titleFontSize":21}}},
"layer":[{"mark":"bar","encoding":{"color":{"field":"s","type":"nominal","sort":["YP","GP"],"scale":{"domain":["YP","GP"],"range":["#0d0d0d","#d9d9d9"]},"legend":{"title":null,"legendX":521,"legendY":49,"labelFontSize":26,"symbolSize":170,"rowPadding":2}}}},
{"mark":"rule","encoding":{"y2":{"field":"e"}}},
{"mark":"tick","encoding":{"y":{"field":"e","type":"quantitative","title":"Relative expression"},"size":{"value":7}}}]},
{"width":669,"height":365,"title":{"text":"CLH2","anchor":"start","frame":"group","dx":143,"offset":-40,"baseline":"top","fontSize":21.5,"fontStyle":"italic","fontWeight":"normal","font":"Liberation Sans"},
"data":{"name":"t"},"transform":[{"filter":"datum.g==='CLH2'"}],
"encoding":{"x":{"field":"d","type":"ordinal","title":null,"scale":{"range":[113,561]},"axis":{"offset":-51,"labelFontSize":24,"labelPadding":8}},
"xOffset":{"field":"s","type":"nominal","sort":["YP","GP"]},
"y":{"field":"v","type":"quantitative","title":"Relative expression","scale":{"domain":[0,0.5],"range":[314,26]},"axis":{"offset":-113,"titleX":-76,"values":[0,0.1,0.2,0.3,0.4,0.5],"format":"~g","labelFontSize":21,"titleFontSize":21}}},
"layer":[{"mark":"bar","encoding":{"color":{"field":"s","type":"nominal","sort":["YP","GP"],"scale":{"domain":["YP","GP"],"range":["#0d0d0d","#d9d9d9"]},"legend":{"title":null,"legendX":597,"legendY":49,"labelFontSize":26,"symbolSize":170,"rowPadding":2}}}},
{"mark":"rule","encoding":{"y2":{"field":"e"}}},
{"mark":"tick","encoding":{"y":{"field":"e","type":"quantitative","title":"Relative expression"},"size":{"value":7}}}]},
{"width":593,"height":365,"title":{"text":"PAO","anchor":"start","frame":"group","dx":139,"offset":-40,"baseline":"top","fontSize":21.5,"fontStyle":"italic","fontWeight":"normal","font":"Liberation Sans"},
"data":{"name":"t"},"transform":[{"filter":"datum.g==='PAO'"}],
"encoding":{"x":{"field":"d","type":"ordinal","title":null,"scale":{"range":[102,495]},"axis":{"offset":-51,"labelFontSize":24,"labelPadding":8}},
"xOffset":{"field":"s","type":"nominal","sort":["YP","GP"]},
"y":{"field":"v","type":"quantitative","title":"Relative expression","scale":{"domain":[0,0.4],"range":[314,26]},"axis":{"offset":-102,"titleX":-65,"values":[0,0.05,0.1,0.15,0.2,0.25,0.3,0.35,0.4],"format":"~g","labelFontSize":21,"titleFontSize":21}}},
"layer":[{"mark":"bar","encoding":{"color":{"field":"s","type":"nominal","sort":["YP","GP"],"scale":{"domain":["YP","GP"],"range":["#0d0d0d","#d9d9d9"]},"legend":{"title":null,"legendX":519,"legendY":49,"labelFontSize":26,"symbolSize":170,"rowPadding":2}}}},
{"mark":"rule","encoding":{"y2":{"field":"e"}}},
{"mark":"tick","encoding":{"y":{"field":"e","type":"quantitative","title":"Relative expression"},"size":{"value":7}}}]}
]},
{"spacing":2,"resolve":{"scale":{"color":"independent"},"legend":{"color":"independent"}},"hconcat":[
{"width":600,"height":386,"title":{"text":"RCCR","anchor":"start","frame":"group","dx":135,"offset":-38,"baseline":"top","fontSize":21.5,"fontStyle":"italic","fontWeight":"normal","font":"Liberation Sans"},
"data":{"name":"t"},"transform":[{"filter":"datum.g==='RCCR'"}],
"encoding":{"x":{"field":"d","type":"ordinal","title":null,"scale":{"range":[104,515]},"axis":{"offset":-52,"labelFontSize":24,"labelPadding":8}},
"xOffset":{"field":"s","type":"nominal","sort":["YP","GP"]},
"y":{"field":"v","type":"quantitative","title":"Relative expression","scale":{"domain":[0,0.8],"range":[334,24]},"axis":{"offset":-104,"titleX":-67,"values":[0,0.1,0.2,0.3,0.4,0.5,0.6,0.7,0.8],"format":"~g","labelFontSize":21,"titleFontSize":21}}},
"layer":[{"mark":"bar","encoding":{"color":{"field":"s","type":"nominal","sort":["YP","GP"],"scale":{"domain":["YP","GP"],"range":["#0d0d0d","#d9d9d9"]},"legend":{"title":null,"legendX":540,"legendY":46,"labelFontSize":26,"symbolSize":170,"rowPadding":2}}}},
{"mark":"rule","encoding":{"y2":{"field":"e"}}},
{"mark":"tick","encoding":{"y":{"field":"e","type":"quantitative","title":"Relative expression"},"size":{"value":7}}}]},
{"width":625,"height":386,"title":{"text":"SGR1","anchor":"start","frame":"group","dx":147,"offset":-38,"baseline":"top","fontSize":21.5,"fontStyle":"italic","fontWeight":"normal","font":"Liberation Sans"},
"data":{"name":"t"},"transform":[{"filter":"datum.g==='SGR1'"}],
"encoding":{"x":{"field":"d","type":"ordinal","title":null,"scale":{"range":[122,521]},"axis":{"offset":-52,"labelFontSize":24,"labelPadding":8}},
"xOffset":{"field":"s","type":"nominal","sort":["YP","GP"]},
"y":{"field":"v","type":"quantitative","title":"Relative expression","scale":{"domain":[0,0.06],"range":[334,24]},"axis":{"offset":-122,"titleX":-85,"values":[0,0.01,0.02,0.03,0.04,0.05,0.06],"format":"~g","labelFontSize":21,"titleFontSize":21}}},
"layer":[{"mark":"bar","encoding":{"color":{"field":"s","type":"nominal","sort":["YP","GP"],"scale":{"domain":["YP","GP"],"range":["#0d0d0d","#d9d9d9"]},"legend":{"title":null,"legendX":543,"legendY":46,"labelFontSize":26,"symbolSize":170,"rowPadding":2}}}},
{"mark":"rule","encoding":{"y2":{"field":"e"}}},
{"mark":"tick","encoding":{"y":{"field":"e","type":"quantitative","title":"Relative expression"},"size":{"value":7}}}]},
{"width":621,"height":386,"title":{"text":"SGR2","anchor":"start","frame":"group","dx":139,"offset":-38,"baseline":"top","fontSize":21.5,"fontStyle":"italic","fontWeight":"normal","font":"Liberation Sans"},
"data":{"name":"t"},"transform":[{"filter":"datum.g==='SGR2'"}],
"encoding":{"x":{"field":"d","type":"ordinal","title":null,"scale":{"range":[105,519]},"axis":{"offset":-52,"labelFontSize":24,"labelPadding":8}},
"xOffset":{"field":"s","type":"nominal","sort":["YP","GP"]},
"y":{"field":"v","type":"quantitative","title":"Relative expression","scale":{"domain":[0,0.9],"range":[334,24]},"axis":{"offset":-105,"titleX":-68,"values":[0,0.1,0.2,0.3,0.4,0.5,0.6,0.7,0.8,0.9],"format":"~g","labelFontSize":21,"titleFontSize":21}}},
"layer":[{"mark":"bar","encoding":{"color":{"field":"s","type":"nominal","sort":["YP","GP"],"scale":{"domain":["YP","GP"],"range":["#0d0d0d","#d9d9d9"]},"legend":{"title":null,"legendX":540,"legendY":46,"labelFontSize":26,"symbolSize":170,"rowPadding":2}}}},
{"mark":"rule","encoding":{"y2":{"field":"e"}}},
{"mark":"tick","encoding":{"y":{"field":"e","type":"quantitative","title":"Relative expression"},"size":{"value":7}}}]}
]}
]},
{"title":{"text":"C","orient":"left","anchor":"end","angle":0,"align":"right","baseline":"top","fontSize":32,"fontWeight":"bold","font":"Liberation Sans","offset":-6},
"spacing":3,"resolve":{"scale":{"color":"independent"},"legend":{"color":"independent"}},
"vconcat":[
{"spacing":2,"resolve":{"scale":{"color":"independent"},"legend":{"color":"independent"}},"hconcat":[
{"width":558,"height":341,"title":{"text":"CESA2","anchor":"start","frame":"group","dx":140,"offset":-40,"baseline":"top","fontSize":22,"fontStyle":"normal","fontWeight":"normal","font":"Liberation Sans"},
"data":{"name":"t"},"transform":[{"filter":"datum.g==='CESA2'"}],
"encoding":{"x":{"field":"d","type":"ordinal","title":null,"scale":{"range":[106,466]},"axis":{"offset":-49,"labelFontSize":25,"labelPadding":7}},
"xOffset":{"field":"s","type":"nominal","sort":["YP","GP"]},
"y":{"field":"v","type":"quantitative","title":"Relative expression","scale":{"domain":[0,0.09],"range":[292,21]},"axis":{"offset":-106,"titleX":-76,"values":[0,0.01,0.02,0.03,0.04,0.05,0.06,0.07,0.08,0.09],"format":"~g","labelFontSize":22,"titleFontSize":19}}},
"layer":[{"mark":"bar","encoding":{"color":{"field":"s","type":"nominal","sort":["YP","GP"],"scale":{"domain":["YP","GP"],"range":["#0d0d0d","#d9d9d9"]},"legend":{"title":null,"legendX":486,"legendY":49,"labelFontSize":22,"symbolSize":150,"rowPadding":8}}}},
{"mark":"rule","encoding":{"y2":{"field":"e"}}},
{"mark":"tick","encoding":{"y":{"field":"e","type":"quantitative","title":"Relative expression"},"size":{"value":7}}}]},
{"width":558,"height":341,"title":{"text":"CESA3","anchor":"start","frame":"group","dx":128,"offset":-40,"baseline":"top","fontSize":22,"fontStyle":"normal","fontWeight":"normal","font":"Liberation Sans"},
"data":{"name":"t"},"transform":[{"filter":"datum.g==='CESA3'"}],
"encoding":{"x":{"field":"d","type":"ordinal","title":null,"scale":{"range":[91,463]},"axis":{"offset":-49,"labelFontSize":25,"labelPadding":7}},
"xOffset":{"field":"s","type":"nominal","sort":["YP","GP"]},
"y":{"field":"v","type":"quantitative","title":"Relative expression","scale":{"domain":[0,1.4],"range":[292,21]},"axis":{"offset":-91,"titleX":-61,"values":[0,0.2,0.4,0.6,0.8,1,1.2,1.4],"format":"~g","labelFontSize":22,"titleFontSize":19}}},
"layer":[{"mark":"bar","encoding":{"color":{"field":"s","type":"nominal","sort":["YP","GP"],"scale":{"domain":["YP","GP"],"range":["#0d0d0d","#d9d9d9"]},"legend":{"title":null,"legendX":491,"legendY":49,"labelFontSize":22,"symbolSize":150,"rowPadding":8}}}},
{"mark":"rule","encoding":{"y2":{"field":"e"}}},
{"mark":"tick","encoding":{"y":{"field":"e","type":"quantitative","title":"Relative expression"},"size":{"value":7}}}]},
{"width":572,"height":341,"title":{"text":"CESA4","anchor":"start","frame":"group","dx":145,"offset":-40,"baseline":"top","fontSize":22,"fontStyle":"normal","fontWeight":"normal","font":"Liberation Sans"},
"data":{"name":"t"},"transform":[{"filter":"datum.g==='CESA4'"}],
"encoding":{"x":{"field":"d","type":"ordinal","title":null,"scale":{"range":[108,466]},"axis":{"offset":-49,"labelFontSize":25,"labelPadding":7}},
"xOffset":{"field":"s","type":"nominal","sort":["YP","GP"]},
"y":{"field":"v","type":"quantitative","title":"Relative expression","scale":{"domain":[0,0.16],"range":[292,21]},"axis":{"offset":-108,"titleX":-78,"values":[0,0.02,0.04,0.06,0.08,0.1,0.12,0.14,0.16],"format":"~g","labelFontSize":22,"titleFontSize":19}}},
"layer":[{"mark":"bar","encoding":{"color":{"field":"s","type":"nominal","sort":["YP","GP"],"scale":{"domain":["YP","GP"],"range":["#0d0d0d","#d9d9d9"]},"legend":{"title":null,"legendX":493,"legendY":49,"labelFontSize":22,"symbolSize":150,"rowPadding":8}}}},
{"mark":"rule","encoding":{"y2":{"field":"e"}}},
{"mark":"tick","encoding":{"y":{"field":"e","type":"quantitative","title":"Relative expression"},"size":{"value":7}}}]}
]},
{"spacing":2,"resolve":{"scale":{"color":"independent"},"legend":{"color":"independent"}},"hconcat":[
{"width":554,"height":335,"title":{"text":"CSLE6","anchor":"start","frame":"group","dx":164,"offset":-42,"baseline":"top","fontSize":22,"fontStyle":"italic","fontWeight":"normal","font":"Liberation Sans"},
"data":{"name":"t"},"transform":[{"filter":"datum.g==='CSLE6'"}],
"encoding":{"x":{"field":"d","type":"ordinal","title":null,"scale":{"range":[107,466]},"axis":{"offset":-46,"labelFontSize":25,"labelPadding":7}},
"xOffset":{"field":"s","type":"nominal","sort":["YP","GP"]},
"y":{"field":"v","type":"quantitative","title":"Relative expression","scale":{"domain":[0,0.2],"range":[289,23]},"axis":{"offset":-107,"titleX":-77,"values":[0,0.02,0.04,0.06,0.08,0.1,0.12,0.14,0.16,0.18,0.2],"format":"~g","labelFontSize":22,"titleFontSize":19}}},
"layer":[{"mark":"bar","encoding":{"color":{"field":"s","type":"nominal","sort":["YP","GP"],"scale":{"domain":["YP","GP"],"range":["#0d0d0d","#d9d9d9"]},"legend":{"title":null,"legendX":482,"legendY":53,"labelFontSize":22,"symbolSize":150,"rowPadding":8}}}},
{"mark":"rule","encoding":{"y2":{"field":"e"}}},
{"mark":"tick","encoding":{"y":{"field":"e","type":"quantitative","title":"Relative expression"},"size":{"value":7}}}]},
{"width":557,"height":335,"title":{"text":"CESA7","anchor":"start","frame":"group","dx":153,"offset":-42,"baseline":"top","fontSize":22,"fontStyle":"italic","fontWeight":"normal","font":"Liberation Sans"},
"data":{"name":"t"},"transform":[{"filter":"datum.g==='CESA7'"}],
"encoding":{"x":{"field":"d","type":"ordinal","title":null,"scale":{"range":[119,467]},"axis":{"offset":-46,"labelFontSize":25,"labelPadding":7}},
"xOffset":{"field":"s","type":"nominal","sort":["YP","GP"]},
"y":{"field":"v","type":"quantitative","title":"Relative expression","scale":{"domain":[0,0.05],"range":[289,23]},"axis":{"offset":-119,"titleX":-89,"values":[0,0.005,0.01,0.015,0.02,0.025,0.03,0.035,0.04,0.045,0.05],"format":"~g","labelFontSize":22,"titleFontSize":19}}},
"layer":[{"mark":"bar","encoding":{"color":{"field":"s","type":"nominal","sort":["YP","GP"],"scale":{"domain":["YP","GP"],"range":["#0d0d0d","#d9d9d9"]},"legend":{"title":null,"legendX":490,"legendY":53,"labelFontSize":22,"symbolSize":150,"rowPadding":8}}}},
{"mark":"rule","encoding":{"y2":{"field":"e"}}},
{"mark":"tick","encoding":{"y":{"field":"e","type":"quantitative","title":"Relative expression"},"size":{"value":7}}}]}
]}
]},
{"title":{"text":"D","orient":"left","anchor":"end","angle":0,"align":"right","baseline":"top","fontSize":32,"fontWeight":"bold","font":"Liberation Sans","offset":-6},
"spacing":2,"resolve":{"scale":{"color":"independent"},"legend":{"color":"independent"}},
"hconcat":[
{"width":465,"height":270,"title":{"text":"Phvul.001G112700","anchor":"start","frame":"group","dx":130,"offset":-32,"baseline":"top","fontSize":18,"fontStyle":"italic","fontWeight":"normal","font":"Liberation Sans"},
"data":{"name":"t"},"transform":[{"filter":"datum.g==='Phvul.001G112700'"}],
"encoding":{"x":{"field":"d","type":"ordinal","title":null,"scale":{"range":[100,390]},"axis":{"offset":-40,"labelFontSize":18,"labelPadding":5}},
"xOffset":{"field":"s","type":"nominal","sort":["YP","GP"]},
"y":{"field":"v","type":"quantitative","title":"Relative expression","scale":{"domain":[0,0.03],"range":[230,15]},"axis":{"offset":-100,"titleX":-70,"values":[0,0.005,0.01,0.015,0.02,0.025,0.03],"format":"~g","labelFontSize":18.5,"titleFontSize":15.5}}},
"layer":[{"mark":"bar","encoding":{"color":{"field":"s","type":"nominal","sort":["YP","GP"],"scale":{"domain":["YP","GP"],"range":["#0d0d0d","#d9d9d9"]},"legend":{"title":null,"legendX":407,"legendY":32,"labelFontSize":18.5,"symbolSize":110,"rowPadding":5}}}},
{"mark":"rule","encoding":{"y2":{"field":"e"}}},
{"mark":"tick","encoding":{"y":{"field":"e","type":"quantitative","title":"Relative expression"},"size":{"value":6}}}]},
{"width":465,"height":270,"title":{"text":"Phvul.006G133700","anchor":"start","frame":"group","dx":108,"offset":-32,"baseline":"top","fontSize":18,"fontStyle":"italic","fontWeight":"normal","font":"Liberation Sans"},
"data":{"name":"t"},"transform":[{"filter":"datum.g==='Phvul.006G133700'"}],
"encoding":{"x":{"field":"d","type":"ordinal","title":null,"scale":{"range":[80,391]},"axis":{"offset":-40,"labelFontSize":18,"labelPadding":5}},
"xOffset":{"field":"s","type":"nominal","sort":["YP","GP"]},
"y":{"field":"v","type":"quantitative","title":"Relative expression","scale":{"domain":[0,3],"range":[230,15]},"axis":{"offset":-80,"titleX":-50,"values":[0,0.5,1,1.5,2,2.5,3],"format":"~g","labelFontSize":18.5,"titleFontSize":15.5}}},
"layer":[{"mark":"bar","encoding":{"color":{"field":"s","type":"nominal","sort":["YP","GP"],"scale":{"domain":["YP","GP"],"range":["#0d0d0d","#d9d9d9"]},"legend":{"title":null,"legendX":409,"legendY":32,"labelFontSize":18.5,"symbolSize":110,"rowPadding":5}}}},
{"mark":"rule","encoding":{"y2":{"field":"e"}}},
{"mark":"tick","encoding":{"y":{"field":"e","type":"quantitative","title":"Relative expression"},"size":{"value":6}}}]},
{"width":464,"height":270,"title":{"text":"Phvul.011G145900","anchor":"start","frame":"group","dx":108,"offset":-32,"baseline":"top","fontSize":18,"fontStyle":"italic","fontWeight":"normal","font":"Liberation Sans"},
"data":{"name":"t"},"transform":[{"filter":"datum.g==='Phvul.011G145900'"}],
"encoding":{"x":{"field":"d","type":"ordinal","title":null,"scale":{"range":[80,388]},"axis":{"offset":-40,"labelFontSize":18,"labelPadding":5}},
"xOffset":{"field":"s","type":"nominal","sort":["YP","GP"]},
"y":{"field":"v","type":"quantitative","title":"Relative expression","scale":{"domain":[0,1.6],"range":[230,15]},"axis":{"offset":-80,"titleX":-50,"values":[0,0.2,0.4,0.6,0.8,1,1.2,1.4,1.6],"format":"~g","labelFontSize":18.5,"titleFontSize":15.5}}},
"layer":[{"mark":"bar","encoding":{"color":{"field":"s","type":"nominal","sort":["YP","GP"],"scale":{"domain":["YP","GP"],"range":["#0d0d0d","#d9d9d9"]},"legend":{"title":null,"legendX":408,"legendY":32,"labelFontSize":18.5,"symbolSize":110,"rowPadding":5}}}},
{"mark":"rule","encoding":{"y2":{"field":"e"}}},
{"mark":"tick","encoding":{"y":{"field":"e","type":"quantitative","title":"Relative expression"},"size":{"value":6}}}]},
{"width":463,"height":270,"title":{"text":"Phvul.011G200700","anchor":"start","frame":"group","dx":128,"offset":-32,"baseline":"top","fontSize":18,"fontStyle":"italic","fontWeight":"normal","font":"Liberation Sans"},
"data":{"name":"t"},"transform":[{"filter":"datum.g==='Phvul.011G200700'"}],
"encoding":{"x":{"field":"d","type":"ordinal","title":null,"scale":{"range":[95,389]},"axis":{"offset":-40,"labelFontSize":18,"labelPadding":5}},
"xOffset":{"field":"s","type":"nominal","sort":["YP","GP"]},
"y":{"field":"v","type":"quantitative","title":"Relative expression","scale":{"domain":[0,0.012],"range":[230,15]},"axis":{"offset":-95,"titleX":-65,"values":[0,0.002,0.004,0.006,0.008,0.01,0.012],"format":"~g","labelFontSize":18.5,"titleFontSize":15.5}}},
"layer":[{"mark":"bar","encoding":{"color":{"field":"s","type":"nominal","sort":["YP","GP"],"scale":{"domain":["YP","GP"],"range":["#0d0d0d","#d9d9d9"]},"legend":{"title":null,"legendX":406,"legendY":32,"labelFontSize":18.5,"symbolSize":110,"rowPadding":5}}}},
{"mark":"rule","encoding":{"y2":{"field":"e"}}},
{"mark":"tick","encoding":{"y":{"field":"e","type":"quantitative","title":"Relative expression"},"size":{"value":6}}}]}
]}
]
}
